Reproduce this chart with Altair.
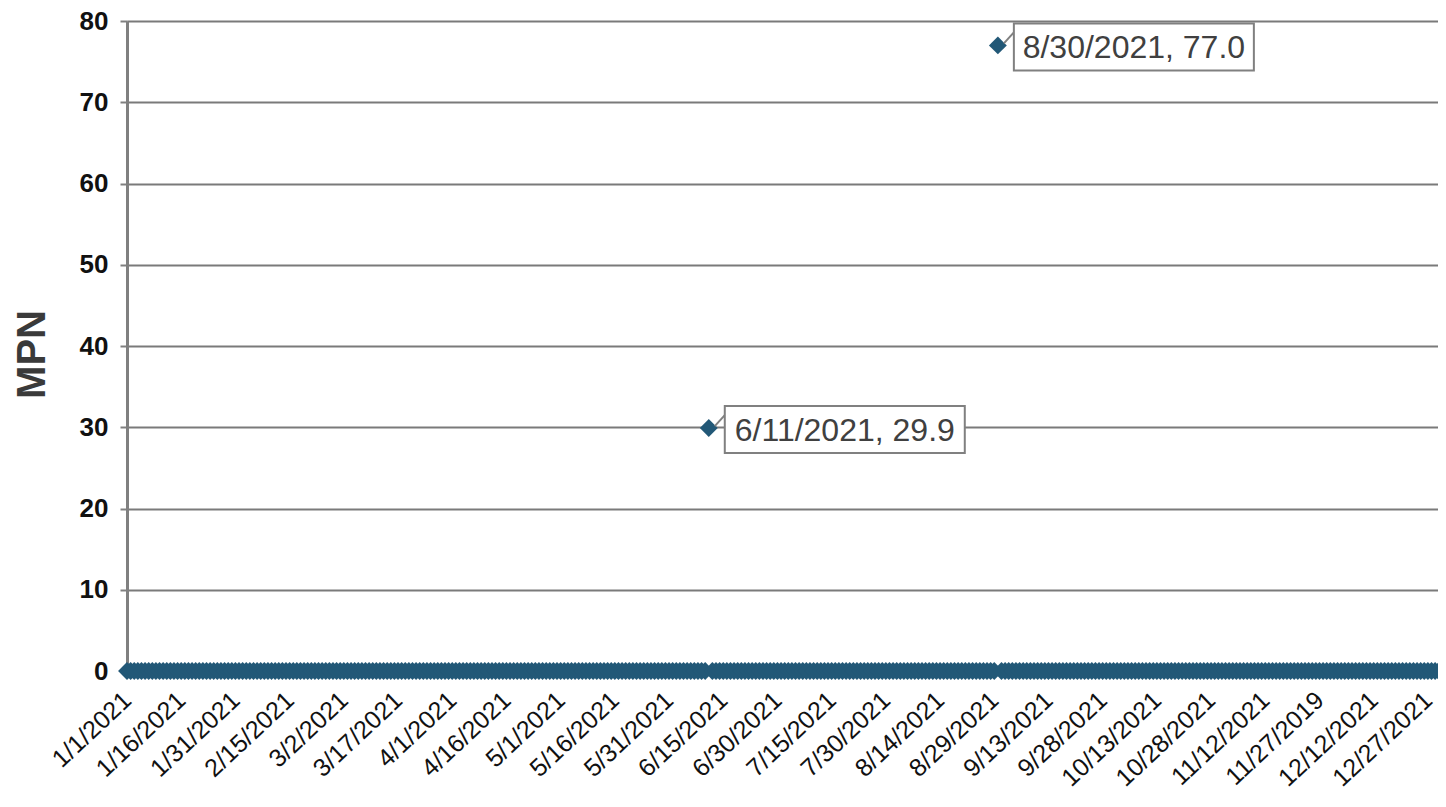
import json
import altair as alt
import pandas as pd

# ---- data ----
year_start = "2021-01-01"
year_end = "2021-12-31"
# every daily sample is 0 MPN except these two
nonzero_dates = ["2021-06-11", "2021-08-30"]
nonzero_values = [29.9, 77.0]
callout_labels = ["6/11/2021, 29.9", "8/30/2021, 77.0"]

x_tick_labels = [
    "1/1/2021", "1/16/2021", "1/31/2021", "2/15/2021", "3/2/2021", "3/17/2021",
    "4/1/2021", "4/16/2021", "5/1/2021", "5/16/2021", "5/31/2021", "6/15/2021",
    "6/30/2021", "7/15/2021", "7/30/2021", "8/14/2021", "8/29/2021", "9/13/2021",
    "9/28/2021", "10/13/2021", "10/28/2021", "11/12/2021", "11/27/2019",
    "12/12/2021", "12/27/2021",
]
y_ticks = [0, 10, 20, 30, 40, 50, 60, 70, 80]

# ---- build tables ----
dates = pd.date_range(year_start, year_end, freq="D")
t0 = pd.Timestamp(year_start)
values = [0.0] * len(dates)
for d, v in zip(nonzero_dates, nonzero_values):
    values[(pd.Timestamp(d) - t0).days] = v
df = pd.DataFrame({"day": [(d - t0).days for d in dates], "MPN": values})

ann = pd.DataFrame({
    "day": [(pd.Timestamp(d) - t0).days for d in nonzero_dates],
    "MPN": nonzero_values,
    "label": callout_labels,
})

tick_vals = [i * 15 for i in range(len(x_tick_labels))]
label_expr = f"{json.dumps(x_tick_labels)}[round(datum.value / 15)]"

FONT = "Liberation Sans"
COLOR = "#225877"

x_scale = alt.Scale(domain=[0, 362.8], nice=False, zero=False)
y_scale = alt.Scale(domain=[0, 80], nice=False)

x_enc = alt.X(
    "day:Q", scale=x_scale,
    axis=alt.Axis(
        values=tick_vals, labelExpr=label_expr, labelAngle=-43,
        labelAlign="right", labelBaseline="middle", labelPadding=25,
        labelFont=FONT, labelFontSize=25, labelColor="#111111",
        ticks=False, domain=False, grid=False, title=None, labelOverlap=False,
    ),
)
y_enc = alt.Y(
    "MPN:Q", scale=y_scale,
    axis=alt.Axis(
        values=y_ticks, labelFont=FONT, labelFontSize=26, labelFontWeight="bold",
        labelColor="#111111", labelPadding=12, tickSize=7, tickColor="#808080",
        tickWidth=2, domainColor="#808080", domainWidth=3,
        gridColor="#7a7a7a", gridWidth=2, title="MPN", titleFont=FONT,
        titleFontSize=40, titleFontWeight="bold", titleColor="#3a3a3a",
        titlePadding=27, titleY=333,
    ),
)

points = alt.Chart(df).mark_point(
    shape="diamond", filled=True, size=320, color=COLOR, opacity=1
).encode(x=x_enc, y=y_enc)

tail = alt.Chart(ann).mark_rule(
    color="#808080", strokeWidth=2, xOffset=6, x2Offset=16, yOffset=-2, y2Offset=-13
).encode(x="day:Q", x2="day:Q", y="MPN:Q", y2="MPN:Q")

boxes = alt.Chart(ann).mark_rect(
    fill="white", stroke="#808080", strokeWidth=2,
    xOffset=16, x2Offset=256, yOffset=-22, y2Offset=25,
).encode(x="day:Q", x2="day:Q", y="MPN:Q", y2="MPN:Q")

texts = alt.Chart(ann).mark_text(
    font=FONT, fontSize=32, color="#404040", align="center", baseline="middle",
    dx=136, dy=3,
).encode(x="day:Q", y="MPN:Q", text="label:N")

chart = alt.layer(points, tail, boxes, texts).properties(
    width=1311, height=650,
    autosize=alt.AutoSizeParams(type="none"),
    padding={"left": 119, "top": 13, "right": 0, "bottom": 128},
).configure_view(stroke="#808080", strokeWidth=2).configure(background="white")

chart.save("out.html", embed_options={"renderer": "svg", "actions": False})
